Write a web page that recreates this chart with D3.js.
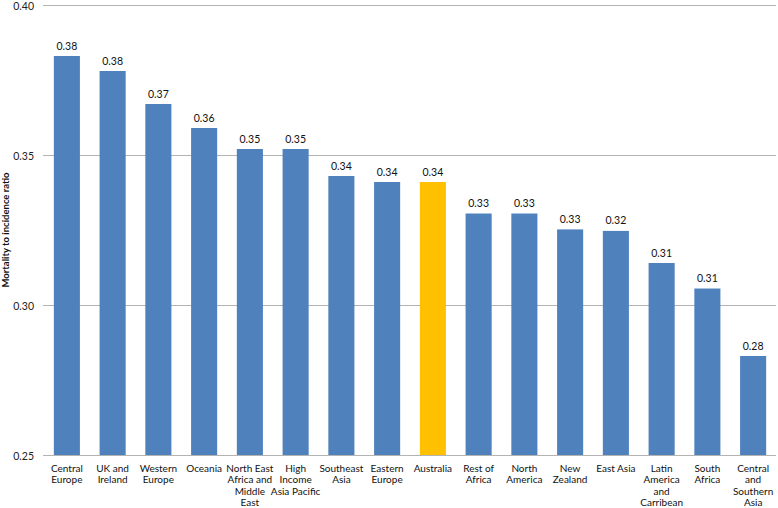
<!DOCTYPE html>
<html>
<head>
<meta charset="utf-8">
<script src="https://cdn.jsdelivr.net/npm/d3@7"></script>
<style>
  body { margin: 0; background: #fff; }
  svg { font-family: Lato, "Open Sans", "DejaVu Sans", sans-serif; }
</style>
</head>
<body>
<script>
// regions, in the order of the chart (line breaks as wrapped in the picture)
var regions = [
  "Central\nEurope", "UK and\nIreland", "Western\nEurope", "Oceania",
  "North East\nAfrica and\nMiddle\nEast", "High\nIncome\nAsia Pacific",
  "Southeast\nAsia", "Eastern\nEurope", "Australia", "Rest of\nAfrica",
  "North\nAmerica", "New\nZealand", "East Asia", "Latin\nAmerica\nand\nCarribean",
  "South\nAfrica", "Central\nand\nSouthern\nAsia"
];
// mortality to incidence ratio
var ratios = [0.383, 0.378, 0.367, 0.359, 0.352, 0.352, 0.343, 0.341,
              0.341, 0.3305, 0.3305, 0.3252, 0.3247, 0.314, 0.3055, 0.283];
var yTicks = [0.25, 0.30, 0.35, 0.40];
var highlight = "Australia";

var width = 778, height = 508;
var margin = {top: 5, right: 2, bottom: 53, left: 44};

var svg = d3.select("body").append("svg")
  .attr("width", width)
  .attr("height", height);

var x = d3.scaleBand()
  .domain(regions)
  .range([margin.left, width - margin.right])
  .paddingInner(0.43)
  .paddingOuter(0.215);

var y = d3.scaleLinear()
  .domain([0.25, 0.40])
  .range([height - margin.bottom, margin.top]);

// gridlines
svg.append("g")
  .selectAll("line")
  .data(yTicks)
  .enter().append("line")
  .attr("x1", margin.left - 1)
  .attr("x2", width - margin.right)
  .attr("y1", function(d) { return y(d) + 0.5; })
  .attr("y2", function(d) { return y(d) + 0.5; })
  .style("stroke", "#b3b3b3")
  .style("stroke-width", 1.2);

// y tick labels
svg.append("g")
  .selectAll("text")
  .data(yTicks)
  .enter().append("text")
  .attr("x", 34)
  .attr("y", function(d) { return y(d) + 4.5; })
  .attr("text-anchor", "end")
  .style("font-size", "10.5px")
  .style("fill", "#222")
  .text(function(d) { return d3.format(".2f")(d); });

// y axis title
svg.append("text")
  .attr("transform", "translate(9," + y(0.325) + ") rotate(-90)")
  .attr("text-anchor", "middle")
  .style("font-size", "9.5px")
  .style("font-weight", "bold")
  .style("fill", "#111")
  .text("Mortality to incidence ratio");

// bars
svg.append("g")
  .selectAll("rect")
  .data(regions)
  .enter().append("rect")
  .attr("x", function(d) { return x(d); })
  .attr("width", x.bandwidth())
  .attr("y", function(d, i) { return y(ratios[i]); })
  .attr("height", function(d, i) { return y(0.25) - y(ratios[i]); })
  .style("fill", function(d) { return d === highlight ? "#ffc000" : "#4f81bd"; });

// value labels
svg.append("g")
  .selectAll("text")
  .data(regions)
  .enter().append("text")
  .attr("x", function(d) { return x(d) + x.bandwidth() / 2; })
  .attr("y", function(d, i) { return y(ratios[i]) - 6.5; })
  .attr("text-anchor", "middle")
  .style("font-size", "10.5px")
  .style("fill", "#111")
  .text(function(d, i) { return d3.format(".2f")(ratios[i]); });

// category labels
var cat = svg.append("g")
  .selectAll("text")
  .data(regions)
  .enter().append("text")
  .attr("text-anchor", "middle")
  .style("font-size", "10px")
  .style("fill", "#111");

cat.selectAll("tspan")
  .data(function(d) {
    return d.split("\n").map(function(l) { return {line: l, key: d}; });
  })
  .enter().append("tspan")
  .attr("x", function(t) { return x(t.key) + x.bandwidth() / 2; })
  .attr("y", function(t, i) { return y(0.25) + 16.5 + i * 11.6; })
  .text(function(t) { return t.line; });
</script>
</body>
</html>
